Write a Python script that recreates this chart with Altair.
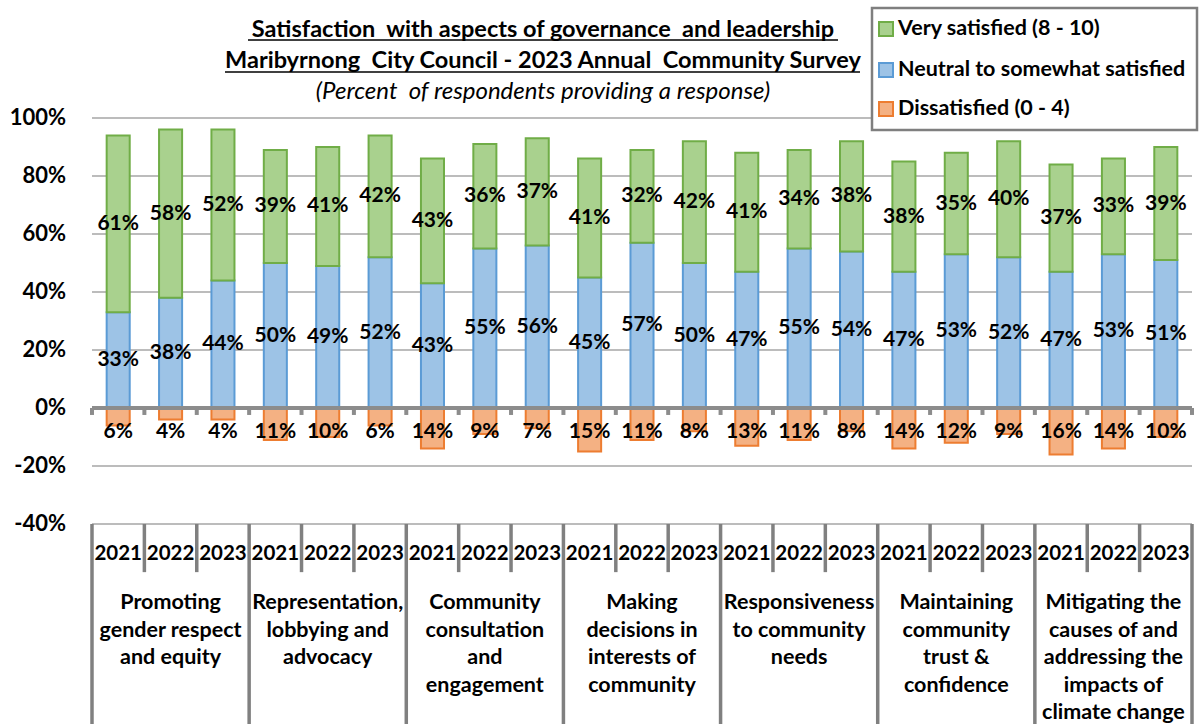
import altair as alt
import pandas as pd

FONT = "Lato"
NB = "\u00a0"

categories = [
    ["Promoting", "gender respect", "and equity"],
    ["Representation,", "lobbying and", "advocacy"],
    ["Community", "consultation", "and", "engagement"],
    ["Making", "decisions in", "interests of", "community"],
    ["Responsiveness", "to community", "needs"],
    ["Maintaining", "community", "trust &", "confidence"],
    ["Mitigating the", "causes of and", "addressing the", "impacts of", "climate change"],
]
years = ["2021", "2022", "2023"]
series = ["Very satisfied (8 - 10)", "Neutral to somewhat satisfied", "Dissatisfied (0 - 4)"]
neutral = [33, 38, 44, 50, 49, 52, 43, 55, 56, 45, 57, 50, 47, 55, 54, 47, 53, 52, 47, 53, 51]
very = [61, 58, 52, 39, 41, 42, 43, 36, 37, 41, 32, 42, 41, 34, 38, 38, 35, 40, 37, 33, 39]
dissat = [6, 4, 4, 11, 10, 6, 14, 9, 7, 15, 11, 8, 13, 11, 8, 14, 12, 9, 16, 14, 10]
y_ticks = [-40, -20, 0, 20, 40, 60, 80, 100]
title1 = f"Satisfaction {NB}with aspects of governance {NB}and leadership"
title2 = f"Maribyrnong {NB}City Council - 2023 Annual {NB}Community Survey"
subtitle = f"(Percent {NB}of respondents providing a response)"

fills = ["#a9d18e", "#9dc3e6", "#f4b183"]
strokes = ["#70ad47", "#5b9bd5", "#ed7d31"]

# the view covers the whole canvas; plot region x 92..1192 px, 0% at y=408 px, 2.9 px per %
CW, CH = 1200, 724
PXX = 1100 / 21
PXY = 2.9
def px2x(px):
    return (px - 92) / PXX
def py2y(py):
    return (408 - py) / PXY

xs = alt.Scale(domain=[px2x(0), px2x(CW)], nice=False, zero=False)
ys = alt.Scale(domain=[py2y(CH), py2y(0)], nice=False, zero=False)
X = lambda f="x": alt.X(f"{f}:Q", scale=xs, axis=None)
Y = lambda f="y": alt.Y(f"{f}:Q", scale=ys, axis=None)

rows, labels = [], []
for i in range(len(neutral)):
    n, v, d = neutral[i], very[i], dissat[i]
    x0, x1 = i + 0.28, i + 0.72
    rows.append(dict(s=series[1], x=x0, x2=x1, y=0, y2=n))
    rows.append(dict(s=series[0], x=x0, x2=x1, y=n, y2=n + v))
    rows.append(dict(s=series[2], x=x0, x2=x1, y=0, y2=-d))
    labels.append(dict(x=i + 0.5, y=n / 2, t=f"{n}%"))
    labels.append(dict(x=i + 0.5, y=n + v / 2, t=f"{v}%"))
    labels.append(dict(x=i + 0.5, y=-8.3, t=f"{d}%"))
bars_df = pd.DataFrame(rows)
lab_df = pd.DataFrame(labels)

fill_enc = alt.Fill("s:N", scale=alt.Scale(domain=series, range=fills), legend=None)
stroke_enc = alt.Stroke("s:N", scale=alt.Scale(domain=series, range=strokes), legend=None)

text_common = dict(font=FONT, fontWeight="bold", color="black", baseline="middle")

# gridlines + y labels
grid_df = pd.DataFrame([dict(x=0, x2=21, y=v) for v in y_ticks if v != 0])
grid = alt.Chart(grid_df).mark_rule(color="#a6a6a6", strokeWidth=1.3).encode(x=X(), x2="x2:Q", y=Y())
ylab_df = pd.DataFrame([dict(x=px2x(66), y=v, t=f"{v}%") for v in y_ticks])
ylab = alt.Chart(ylab_df).mark_text(fontSize=22, align="right", **text_common).encode(x=X(), y=Y(), text="t:N")

bars = alt.Chart(bars_df).mark_rect(strokeWidth=2).encode(
    x=X(), x2="x2:Q", y=Y(), y2="y2:Q", fill=fill_enc, stroke=stroke_enc)

bar_labels = alt.Chart(lab_df).mark_text(fontSize=21, **text_common).encode(x=X(), y=Y(), text="t:N")

# zero line and ticks
zero_df = pd.DataFrame([dict(x=0, x2=21, y=0)])
zero = alt.Chart(zero_df).mark_rule(color="#8c8c8c", strokeWidth=4).encode(x=X(), x2="x2:Q", y=Y())
tick_df = pd.DataFrame([dict(x=k, y=0, y2=-2.4) for k in range(22)])
ticks = alt.Chart(tick_df).mark_rule(color="#8c8c8c", strokeWidth=4).encode(x=X(), y=Y(), y2="y2:Q")

# category table lines
tbl_rows = []
for k in range(22):
    tbl_rows.append(dict(x=k, y=-40, y2=(py2y(CH) if k % 3 == 0 else -56.6)))
tbl = alt.Chart(pd.DataFrame(tbl_rows)).mark_rule(color="#808080", strokeWidth=3.5).encode(
    x=X(), y=Y(), y2="y2:Q")

year_df = pd.DataFrame([dict(x=i + 0.5, y=-50.3, t=years[i % 3]) for i in range(21)])
year_txt = alt.Chart(year_df).mark_text(fontSize=20.5, **text_common).encode(x=X(), y=Y(), text="t:N")
cat_rows = []
for c, lines in enumerate(categories):
    for j, line in enumerate(lines):
        cat_rows.append(dict(x=c * 3 + 1.5, y=py2y(603 + j * 27.6), t=line))
cat_txt = alt.Chart(pd.DataFrame(cat_rows)).mark_text(fontSize=21.5, **text_common).encode(
    x=X(), y=Y(), text="t:N")

# titles
title_bold_df = pd.DataFrame([
    dict(x=px2x(543), y=py2y(30), t=title1),
    dict(x=px2x(543), y=py2y(61), t=title2),
])
title_bold = alt.Chart(title_bold_df).mark_text(fontSize=23.5, **text_common).encode(x=X(), y=Y(), text="t:N")
title_it_df = pd.DataFrame([dict(x=px2x(543), y=py2y(92), t=subtitle)])
title_it = alt.Chart(title_it_df).mark_text(fontSize=24, font=FONT, fontStyle="italic", color="black",
                                            baseline="middle").encode(x=X(), y=Y(), text="t:N")
ul_df = pd.DataFrame([
    dict(x=px2x(248), x2=px2x(838), y=py2y(40)),
    dict(x=px2x(225), x2=px2x(860), y=py2y(72)),
])
underline = alt.Chart(ul_df).mark_rule(color="black", strokeWidth=1.5).encode(x=X(), x2="x2:Q", y=Y())

# legend (box, swatches, labels)
box_df = pd.DataFrame([dict(x=px2x(872), x2=px2x(1197), y=py2y(8), y2=py2y(130))])
box = alt.Chart(box_df).mark_rect(fill="white", stroke="#7f7f7f", strokeWidth=2.5).encode(
    x=X(), x2="x2:Q", y=Y(), y2="y2:Q")
leg_y = [29, 70, 109]
sw_df = pd.DataFrame([dict(s=series[k], x=px2x(879), x2=px2x(893), y=py2y(leg_y[k] - 7),
                           y2=py2y(leg_y[k] + 7)) for k in range(3)])
swatch = alt.Chart(sw_df).mark_rect(strokeWidth=2).encode(
    x=X(), x2="x2:Q", y=Y(), y2="y2:Q", fill=fill_enc, stroke=stroke_enc)
lt_df = pd.DataFrame([dict(x=px2x(898), y=py2y(leg_y[k]), t=series[k]) for k in range(3)])
leg_txt = alt.Chart(lt_df).mark_text(fontSize=21.5, align="left", **text_common).encode(x=X(), y=Y(), text="t:N")

chart = alt.layer(grid, tbl, bars, zero, ticks, bar_labels, ylab, year_txt, cat_txt,
                  underline, title_bold, title_it, box, swatch, leg_txt).properties(
    width=CW, height=CH, padding=0,
).configure_view(strokeWidth=0)

chart.save("out.html", embed_options={"renderer": "svg", "actions": False})
